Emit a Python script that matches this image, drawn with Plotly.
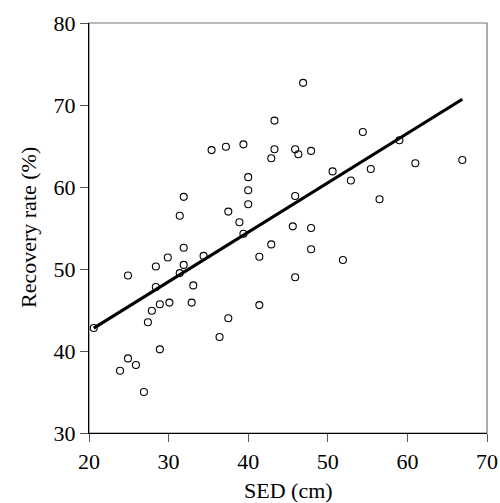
import plotly.graph_objects as go

sed = [20.6, 24.9, 23.9, 24.9, 25.9, 26.9, 27.4, 27.9, 28.4, 28.4, 28.9, 28.9, 29.9, 30.1,
       31.9, 31.9, 31.4, 33.1, 32.9, 34.4, 36.4, 37.5, 39.4, 41.4, 41.4, 42.9,
       35.4, 37.2, 39.4, 40.0, 40.0, 40.0, 37.5, 31.9, 31.4, 38.9,
       43.3, 43.3, 42.9, 46.9, 45.9, 46.3, 47.9, 54.4, 59.0, 50.6, 55.4, 61.0, 66.9,
       52.9, 56.5, 45.9, 45.6, 47.9, 47.9, 51.9, 45.9]
recovery = [42.8, 49.2, 37.6, 39.1, 38.3, 35.0, 43.5, 44.9, 47.8, 50.3, 45.7, 40.2, 51.4, 45.9,
            52.6, 50.5, 49.5, 48.0, 45.9, 51.6, 41.7, 44.0, 54.3, 51.5, 45.6, 53.0,
            64.5, 64.9, 65.2, 61.2, 59.6, 57.9, 57.0, 58.8, 56.5, 55.7,
            68.1, 64.6, 63.5, 72.7, 64.6, 64.0, 64.4, 66.7, 65.7, 61.9, 62.2, 62.9, 63.3,
            60.8, 58.5, 58.9, 55.2, 55.0, 52.4, 51.1, 49.0]
fit_x = [20.6, 66.9]
fit_y = [42.8, 70.7]

font = "Liberation Serif"

fig = go.Figure()
fig.add_trace(go.Scatter(x=fit_x, y=fit_y, mode="lines",
                         line=dict(color="black", width=3.2), showlegend=False))
fig.add_trace(go.Scatter(x=sed, y=recovery, mode="markers",
                         marker=dict(symbol="circle-open", size=7, color="black",
                                     line=dict(width=1.1, color="black")),
                         showlegend=False))

fig.update_layout(
    width=500, height=503,
    margin=dict(l=89, r=13, t=23, b=70),
    paper_bgcolor="white", plot_bgcolor="white",
    font=dict(family=font, size=22, color="black"),
    shapes=[dict(type="rect", xref="paper", yref="paper", x0=0, y0=0, x1=1, y1=1,
                 line=dict(color="#777777", width=1.2), layer="below")],
    annotations=[
        dict(text="SED (cm)", xref="paper", yref="paper", x=0.5, y=0, yshift=-57,
             xanchor="center", yanchor="middle", showarrow=False,
             font=dict(family=font, size=22)),
        dict(text="Recovery rate (%)", xref="paper", yref="paper", x=0, y=0.5, xshift=-61,
             xanchor="center", yanchor="middle", textangle=-90, showarrow=False,
             font=dict(family=font, size=22)),
    ],
)
fig.update_xaxes(range=[20, 70], tickvals=[20, 30, 40, 50, 60, 70],
                 showgrid=False, zeroline=False, automargin=False,
                 showline=True, linecolor="black", linewidth=1.3,
                 ticks="outside", ticklen=8, tickcolor="#555555", tickwidth=1,
                 tickfont=dict(family=font, size=22))
fig.update_yaxes(range=[30, 80], tickvals=[30, 40, 50, 60, 70, 80],
                 showgrid=False, zeroline=False, automargin=False,
                 showline=True, linecolor="black", linewidth=1.3,
                 ticks="outside", ticklen=8, tickcolor="#555555", tickwidth=1,
                 tickfont=dict(family=font, size=22))

fig.write_html("out.html", config={"displayModeBar": False},
               post_script="document.body.style.margin='0';document.body.style.padding='0';document.body.style.overflow='hidden';")
